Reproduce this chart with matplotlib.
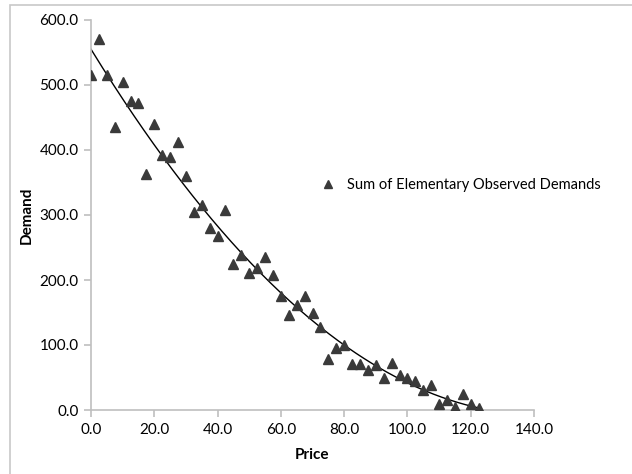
import numpy as np
import matplotlib
matplotlib.use("Agg")
import matplotlib.pyplot as plt
from matplotlib.patches import Rectangle
from matplotlib.ticker import FormatStrFormatter

plt.rcParams["font.family"] = ["Lato", "DejaVu Sans"]

# observed points
price = [0.0, 2.5, 5.0, 7.5, 10.0, 12.5, 15.0, 17.5, 20.0, 22.5,
         25.0, 27.5, 30.0, 32.5, 35.0, 37.5, 40.0, 42.5, 45.0, 47.5,
         50.0, 52.5, 55.0, 57.5, 60.0, 62.5, 65.0, 67.5, 70.0, 72.5,
         75.0, 77.5, 80.0, 82.5, 85.0, 87.5, 90.0, 92.5, 95.0, 97.5,
         100.0, 102.5, 105.0, 107.5, 110.0, 112.5, 115.0, 117.5, 120.0, 122.5]
demand = [515, 570, 515, 435, 504, 475, 472, 363, 440, 393,
          389, 413, 360, 305, 316, 280, 268, 307, 224, 238,
          211, 218, 236, 208, 175, 146, 161, 175, 150, 127,
          78, 96, 100, 71, 71, 62, 69, 50, 72, 54,
          49, 45, 31, 38, 10, 15, 5, 24, 10, 3]

x_ticks = [0, 20, 40, 60, 80, 100, 120, 140]
y_ticks = [0, 100, 200, 300, 400, 500, 600]

W, H = 632, 474
fig = plt.figure(figsize=(W / 100, H / 100), dpi=100)

# outer frame (only left and top edges visible in the reference)
fig.patches.append(Rectangle((10 / W, -0.2), 2.0, 1.2 - 5 / H,
                             transform=fig.transFigure, fill=False,
                             edgecolor="#c8c8c8", linewidth=1.2))

ax = fig.add_axes([91 / W, (H - 410) / H, 443 / W, 390 / H])

# polynomial (order 2) trendline fitted to the observations
coef = np.polyfit(price, demand, 2)
xs = np.linspace(min(price), max(price), 200)
ax.plot(xs, np.polyval(coef, xs), color="black", linewidth=1.0, zorder=2)

ax.plot(price, demand, linestyle="none", marker="^", markersize=7,
        color="#3a3a3a", label="Sum of Elementary Observed Demands", zorder=3)

ax.set_xlim(0, 140)
ax.set_ylim(0, 600)
ax.set_xticks(x_ticks)
ax.set_yticks(y_ticks)
ax.xaxis.set_major_formatter(FormatStrFormatter("%.1f"))
ax.yaxis.set_major_formatter(FormatStrFormatter("%.1f"))

for side in ["top", "right"]:
    ax.spines[side].set_visible(False)
for side in ["left", "bottom"]:
    ax.spines[side].set_color("#bfbfbf")
    ax.spines[side].set_linewidth(1.2)
ax.tick_params(axis="both", direction="out", length=5, width=1.2,
               color="#bfbfbf", labelsize=11, labelcolor="black", pad=4)

ax.set_xlabel("Price", fontsize=11, fontweight="bold", labelpad=8)
ax.set_ylabel("Demand", fontsize=11, fontweight="bold", labelpad=4)

ax.legend(loc="center left", bbox_to_anchor=(0.48, 0.577), frameon=False,
          fontsize=10.5, handletextpad=0.6, markerscale=0.85,
          handlelength=1.5)

fig.savefig("out.png", dpi=100)
